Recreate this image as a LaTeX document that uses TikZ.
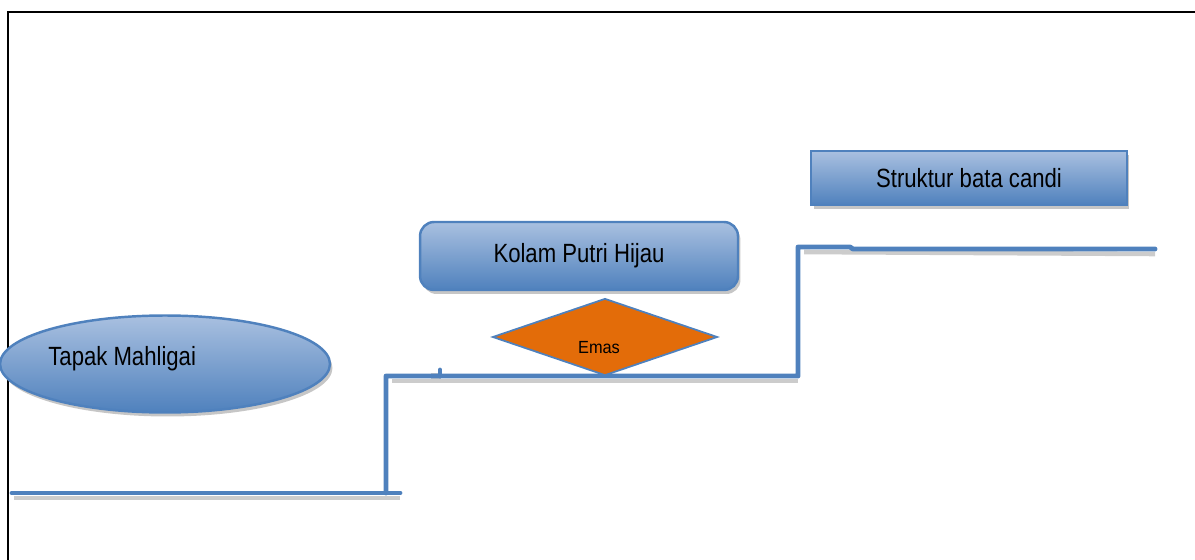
\documentclass[tikz,border=0pt]{standalone}
\usepackage{fontspec}
\setmainfont{Liberation Sans}
\usetikzlibrary{shapes.geometric,shadows}
\definecolor{stepblue}{HTML}{4F81BD}
\definecolor{lightblue}{HTML}{A9C0E0}
\definecolor{emasorange}{HTML}{E36C09}
\newcommand{\narrowtxt}[2][0.84]{\scalebox{#1}[1]{#2}}
\begin{document}
\begin{tikzpicture}[
    x=0.02cm, y=-0.02cm,
    font=\fontsize{15}{17}\selectfont,
    blueshade/.style={draw=stepblue, line width=1.4pt,
                      top color=lightblue, bottom color=stepblue,
                      drop shadow={shadow xshift=0.05cm, shadow yshift=-0.08cm,
                                   fill=gray!45, opacity=1}},
    sitebox/.style={blueshade, rectangle, align=center},
    siteoval/.style={blueshade, ellipse, inner sep=0pt},
    goldmark/.style={diamond, draw=stepblue, line width=1pt, fill=emasorange,
                     inner sep=0pt},
    ground/.style={stepblue, line width=2.8pt, line cap=round, line join=round},
    groundshadow/.style={gray!40, line width=2.6pt},
]
\useasboundingbox (0,0) rectangle (1195,560);

% frame (only top and left edge visible)
\draw[line width=1.1pt] (8,560) -- (8,12) -- (1195,12);

% ground profile points
\coordinate (g0) at (12,493);
\coordinate (g1) at (386,493);
\coordinate (g1e) at (400,493);
\coordinate (g2) at (386,376);
\coordinate (g3) at (798,376);
\coordinate (g4) at (798,247);
\coordinate (g5) at (850,247);
\coordinate (g6) at (853,249);
\coordinate (g7) at (1155,249);
\coordinate (nub) at (440,370);
\coordinate (nubb) at (440,376);

% shadows of the ground line
\draw[groundshadow] ([shift={(2,5)}]g0) -- ([shift={(0,5)}]g1e);
\draw[groundshadow] ([shift={(6,5)}]g2) -- ([shift={(0,5)}]g3);
\draw[groundshadow] ([shift={(6,5)}]g4) -- ([shift={(0,5)}]g7);
\fill[gray!40] (431,373) rectangle (441,383);

% stepped ground line
\draw[ground] (g0) -- (g1e);
\draw[ground] (g1) -- (g2) -- (g3) -- (g4) -- (g5) -- (g6) -- (g7);
\draw[ground] (nubb) -- (nub);

% sites
\node[siteoval, minimum width=6.6cm, minimum height=1.94cm] (mahligai) at (165,364) {};
\node[anchor=west, inner sep=0pt] (mahligailbl) at (48,359) {\narrowtxt{Tapak Mahligai}};

\node[sitebox, rounded corners=8pt, minimum width=6.36cm, minimum height=1.36cm] (kolam) at (579,256) {\narrowtxt{Kolam Putri Hijau}};

\node[goldmark, minimum width=4.5cm, minimum height=1.54cm] (emas) at (605,337) {};
\node (emaslbl) at (599,348) {\fontsize{10}{12}\selectfont\narrowtxt[0.93]{Emas}};

\node[sitebox, minimum width=6.32cm, minimum height=1.08cm] (candi) at (969,178) {\narrowtxt{Struktur bata candi}};
\end{tikzpicture}
\end{document}
